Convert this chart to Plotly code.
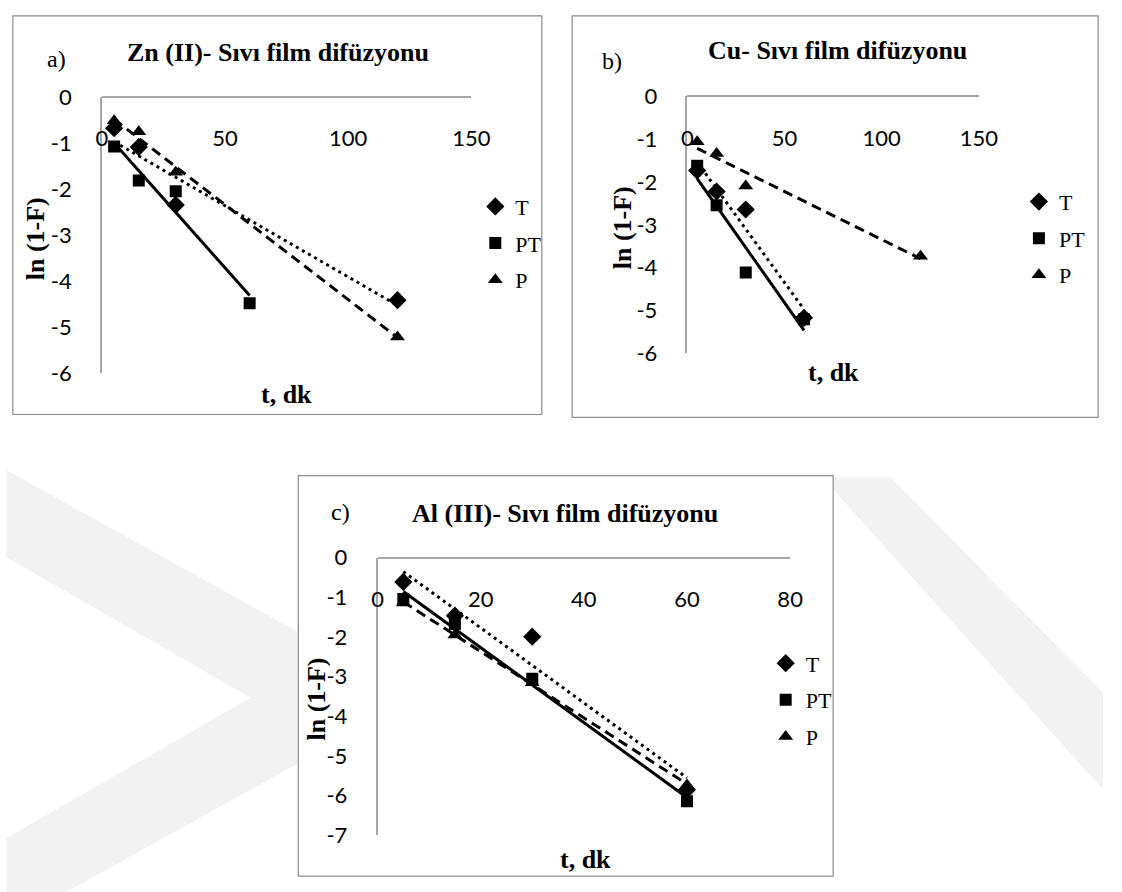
import numpy as np
import plotly.graph_objects as go

W, H = 1122, 892

# ---------------- data ----------------
series_names = ["T", "PT", "P"]

zn_t_x = [5, 15, 30, 120]
zn_t_y = [-0.68, -1.09, -2.35, -4.42]
zn_pt_x = [5, 15, 30, 60]
zn_pt_y = [-1.08, -1.82, -2.05, -4.49]
zn_p_x = [5, 15, 30, 120]
zn_p_y = [-0.52, -0.76, -1.64, -5.22]

cu_t_x = [5, 15, 30, 60]
cu_t_y = [-1.73, -2.22, -2.64, -5.17]
cu_pt_x = [5, 15, 30, 60]
cu_pt_y = [-1.62, -2.54, -4.11, -5.20]
cu_p_x = [5, 15, 30, 120]
cu_p_y = [-1.06, -1.33, -2.09, -3.73]

al_x = [5, 15, 30, 60]
al_t_y = [-0.61, -1.46, -1.99, -5.85]
al_pt_y = [-1.04, -1.67, -3.05, -6.14]
al_p_y = [-1.14, -1.95, -3.15, -5.73]

x_ticks_ab = [0, 50, 100, 150]
x_ticks_c = [0, 20, 40, 60, 80]
y_ticks_ab = [0, -1, -2, -3, -4, -5, -6]
y_ticks_c = [0, -1, -2, -3, -4, -5, -6, -7]

titles = ["Zn (II)- Sıvı film difüzyonu", "Cu- Sıvı film difüzyonu", "Al (III)- Sıvı film difüzyonu"]
panel_tags = ["a)", "b)", "c)"]
x_title = "t, dk"
y_title = "ln (1-F)"

# ---------------- helpers ----------------
def fx(px):
    return px / W

def fy(py):
    return 1 - py / H

SERIF = "Liberation Serif, Times New Roman, serif"
SANS = "Lato, Calibri, sans-serif"
AXCOL = "#a6a6a6"
BORDER = "#8c8c8c"

symbols = {"T": "diamond", "PT": "square", "P": "triangle-up"}
msize = {"T": 14, "PT": 12, "P": 13}
dashes = {"T": "3px,4px", "PT": "solid", "P": "10px,6px"}

fig = go.Figure()

panels = [
    dict(xa="x", ya="y", xs=(98, 476), ys=(85.5, 370), xr=[0, 150], yr=[-6, 0],
         xt=x_ticks_ab, yt=y_ticks_ab, legend="legend",
         data={"T": (zn_t_x, zn_t_y), "PT": (zn_pt_x, zn_pt_y), "P": (zn_p_x, zn_p_y)}),
    dict(xa="x2", ya="y2", xs=(697, 995), ys=(85, 350), xr=[0, 150], yr=[-6, 0],
         xt=x_ticks_ab, yt=y_ticks_ab, legend="legend2",
         data={"T": (cu_t_x, cu_t_y), "PT": (cu_pt_x, cu_pt_y), "P": (cu_p_x, cu_p_y)}),
    dict(xa="x3", ya="y3", xs=(380, 802), ys=(560.7, 847), xr=[0, 80], yr=[-7, 0],
         xt=x_ticks_c, yt=y_ticks_c, legend="legend3",
         data={"T": (al_x, al_t_y), "PT": (al_x, al_pt_y), "P": (al_x, al_p_y)}),
]

for i, p in enumerate(panels):
    for name in series_names:
        xs, ys = p["data"][name]
        fig.add_trace(go.Scatter(
            x=xs, y=ys, mode="markers", name=name, xaxis=p["xa"], yaxis=p["ya"],
            marker=dict(symbol=symbols[name], size=msize[name], color="black"),
            legend=p["legend"], legendgroup=f"{p['legend']}_{name}"))
    for name in series_names:
        xs, ys = p["data"][name]
        m, b = np.polyfit(xs, ys, 1)
        tx = [min(xs), max(xs)]
        ty = [m * v + b for v in tx]
        fig.add_trace(go.Scatter(
            x=tx, y=ty, mode="lines", xaxis=p["xa"], yaxis=p["ya"],
            line=dict(color="black", width=3, dash=dashes[name]),
            showlegend=False, hoverinfo="skip"))

layout = dict(
    width=W, height=H, margin=dict(l=0, r=0, t=0, b=0),
    paper_bgcolor="white", plot_bgcolor="rgba(0,0,0,0)",
)

for i, p in enumerate(panels):
    sfx = "" if i == 0 else str(i + 1)
    ydom = [fy(p["ys"][1]), fy(p["ys"][0])]
    layout["xaxis" + sfx] = dict(
        domain=[fx(p["xs"][0]), fx(p["xs"][1])], range=p["xr"],
        anchor="free", position=ydom[1], side="bottom",
        tickvals=p["xt"], ticktext=[str(v) for v in p["xt"]],
        showline=True, linecolor=AXCOL, linewidth=1.5,
        showgrid=False, zeroline=False, ticks="",
        ticklabelstandoff=22,
        tickfont=dict(family=SANS, size=22, color="black"), fixedrange=True)
    layout["yaxis" + sfx] = dict(
        domain=ydom, range=p["yr"], anchor=p["xa"],
        tickvals=p["yt"], ticktext=[str(v) for v in p["yt"]],
        showline=True, linecolor=AXCOL, linewidth=1.5,
        showgrid=False, zeroline=False, ticks="",
        ticklabelstandoff=24,
        tickfont=dict(family=SANS, size=22, color="black"), fixedrange=True)

legend_pos = [(480, 177), (1036, 172), (777, 648)]
for i, (lx, ly) in enumerate(legend_pos):
    key = "legend" if i == 0 else f"legend{i + 1}"
    layout[key] = dict(
        x=fx(lx), y=fy(ly), xanchor="left", yanchor="top",
        bgcolor="rgba(0,0,0,0)", borderwidth=0,
        font=dict(family=SERIF, size=22, color="black"),
        itemwidth=30, tracegroupgap=5, traceorder="grouped")

# faint background watermark and panel borders
shapes = []
shapes.append(dict(type="path", xref="paper", yref="paper", layer="below",
                   path=f"M {fx(0)} {fy(470)} L {fx(420)} {fy(705)} L {fx(0)} {fy(940)} "
                        f"L {fx(0)} {fy(850)} L {fx(250)} {fy(705)} L {fx(0)} {fy(560)} Z",
                   fillcolor="#f2f2f2", line=dict(width=0)))
shapes.append(dict(type="path", xref="paper", yref="paper", layer="below",
                   path=f"M {fx(835)} {fy(478)} L {fx(905)} {fy(478)} L {fx(1122)} {fy(700)} "
                        f"L {fx(1122)} {fy(800)} Z",
                   fillcolor="#f2f2f2", line=dict(width=0)))
borders = [(7, 2, 548, 413), (579, 2, 1117, 416), (299, 476, 846, 889)]
for (x0, y0, x1, y1) in borders:
    shapes.append(dict(type="rect", xref="paper", yref="paper", layer="below",
                       x0=fx(x0), x1=fx(x1), y0=fy(y1), y1=fy(y0),
                       line=dict(color=BORDER, width=1.2), fillcolor="white"))
layout["shapes"] = shapes

annotations = []
title_pos = [(278, 40), (850, 38), (572, 515)]
tag_pos = [(52, 46), (620, 48), (342, 514)]
ytitle_pos = [(31, 232), (630, 220), (318, 706)]
xtitle_pos = [(287, 392), (846, 370), (593, 872)]
for i in range(3):
    annotations.append(dict(text=f"<b>{titles[i]}</b>", x=fx(title_pos[i][0]), y=fy(title_pos[i][1]),
                            xref="paper", yref="paper", showarrow=False, xanchor="center", yanchor="middle",
                            font=dict(family=SERIF, size=26, color="black")))
    annotations.append(dict(text=panel_tags[i], x=fx(tag_pos[i][0]), y=fy(tag_pos[i][1]),
                            xref="paper", yref="paper", showarrow=False, xanchor="center", yanchor="middle",
                            font=dict(family=SERIF, size=24, color="black")))
    annotations.append(dict(text=f"<b>{y_title}</b>", x=fx(ytitle_pos[i][0]), y=fy(ytitle_pos[i][1]),
                            xref="paper", yref="paper", showarrow=False, xanchor="center", yanchor="middle",
                            textangle=-90, font=dict(family=SERIF, size=26, color="black")))
    annotations.append(dict(text=f"<b>{x_title}</b>", x=fx(xtitle_pos[i][0]), y=fy(xtitle_pos[i][1]),
                            xref="paper", yref="paper", showarrow=False, xanchor="center", yanchor="middle",
                            font=dict(family=SERIF, size=26, color="black")))
layout["annotations"] = annotations

fig.update_layout(**layout)
fig.write_html("out.html",
               config={"displayModeBar": False, "staticPlot": False},
               post_script="document.body.style.margin='0px';document.body.style.overflow='hidden';")
